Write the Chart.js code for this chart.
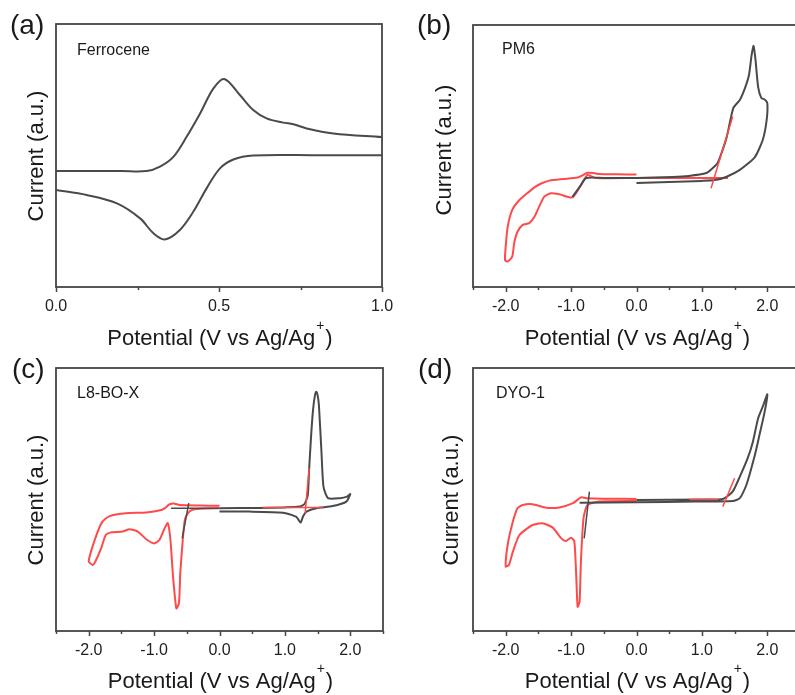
<!DOCTYPE html>
<html>
<head>
<meta charset="utf-8">
<script src="https://cdn.jsdelivr.net/npm/chart.js@4.4.1/dist/chart.umd.min.js"></script>
<style>
  html, body { margin: 0; padding: 0; background: #fff; overflow: hidden; width: 795px; height: 695px; }
  body { position: relative; }
  canvas { position: absolute; }
</style>
</head>
<body>
<canvas id="pa" style="left:0;top:0" width="400" height="360"></canvas>
<canvas id="pb" style="left:400px;top:0" width="400" height="360"></canvas>
<canvas id="pc" style="left:0;top:345px" width="400" height="350"></canvas>
<canvas id="pd" style="left:400px;top:345px" width="400" height="350"></canvas>
<script>
// ---- data (potential in V vs Ag/Ag+, current in a.u.) ----
// (a) ferrocene
const aFwdV = [0, 0.2, 0.278, 0.319, 0.36, 0.401, 0.442, 0.483, 0.516, 0.564, 0.605, 0.646, 0.697, 0.728, 0.769, 0.851, 1.0];
const aFwdI = [44.1, 44.1, 44.1, 45.8, 49.5, 57.2, 66.0, 75.5, 79.1, 73.0, 67.3, 64.1, 62.5, 61.9, 60.3, 58.4, 57.0];
const aRevV = [1.0, 0.8, 0.605, 0.544, 0.503, 0.462, 0.421, 0.380, 0.334, 0.299, 0.258, 0.187, 0.094, 0];
const aRevI = [50.1, 50.1, 50.0, 48.5, 45.1, 37.5, 28.6, 21.7, 18.1, 20.4, 26.1, 31.8, 35.0, 36.9];

// (b) PM6
const bBlackV = [0, 0.5, 1.0, 1.2, 1.37, 1.58, 1.81, 1.93, 1.99, 2.0, 1.96, 1.91, 1.86, 1.82, 1.79, 1.76, 1.72, 1.66, 1.58, 1.48, 1.38, 1.30, 1.24, 1.15, 1.07, 0.8, 0.55, 0, -0.5, -0.77, -0.85, -0.98];
const bBlackI = [39.7, 40.1, 40.5, 40.8, 42.0, 44.7, 49.6, 56.1, 63.7, 70.2, 71.6, 72.1, 76.3, 86.6, 92.0, 88.5, 80.9, 76.0, 71.4, 68.3, 57.3, 51.1, 47.3, 45.0, 43.5, 42.4, 42.0, 41.6, 41.6, 41.6, 38.9, 34.4];
const bRedV = [0, -0.3, -0.57, -0.66, -0.75, -0.82, -0.9, -1.13, -1.33, -1.44, -1.55, -1.64, -1.79, -1.90, -1.97, -2.0, -2.01, -1.97, -1.90, -1.87, -1.82, -1.74, -1.64, -1.56, -1.49, -1.41, -1.31, -1.18, -0.98, -0.85, -0.75, -0.62, 0, 1.4];
const bRedI = [42.9, 43.0, 43.1, 43.5, 43.6, 42.7, 41.8, 41.2, 40.6, 39.7, 38.2, 36.4, 33.2, 29.4, 22.9, 15.4, 10.3, 9.7, 11.6, 16.8, 21.1, 23.7, 24.4, 26.8, 30.6, 34.5, 35.8, 35.4, 34.2, 38.9, 42.7, 41.6, 41.6, 41.6];
const bTanV = [1.14, 1.47];
const bTanI = [37.7, 65.0];

// (c) L8-BO-X
const cBlackV = [0, 0.6, 1.0, 1.22, 1.30, 1.35, 1.37, 1.40, 1.43, 1.46, 1.48, 1.50, 1.52, 1.56, 1.59, 1.66, 1.84, 1.95, 2.0, 1.94, 1.73, 1.48, 1.33, 1.28, 1.24, 1.20, 1.17, 0.97, 0.46, 0];
const cBlackI = [46.7, 46.8, 47.0, 47.3, 48.3, 51.7, 61.2, 73.9, 84.0, 89.7, 91.0, 89.7, 85.9, 67.6, 54.9, 50.5, 50.5, 51.1, 52.1, 49.2, 47.5, 46.7, 45.4, 43.7, 41.2, 42.6, 43.5, 45.0, 45.4, 45.4];
const cRedV = [0, -0.3, -0.61, -0.70, -0.77, -0.83, -0.89, -1.12, -1.43, -1.68, -1.79, -1.89, -2.0, -1.94, -1.90, -1.81, -1.74, -1.66, -1.48, -1.38, -1.25, -1.12, -1.0, -0.92, -0.84, -0.79, -0.75, -0.71, -0.66, -0.62, -0.60, -0.56, -0.53, -0.48, -0.40, -0.2, 0];
const cRedI = [47.6, 47.7, 47.9, 48.5, 48.1, 46.8, 46.0, 45.1, 44.8, 43.7, 41.6, 35.9, 26.6, 25.1, 26.3, 31.4, 36.5, 37.5, 37.8, 38.7, 37.8, 34.9, 33.3, 34.6, 39.0, 41.0, 34.6, 20.6, 8.6, 10.5, 21.9, 35.2, 42.2, 44.9, 46.2, 46.6, 46.7];
const cBaseBlackV = [-0.74, 0];
const cBaseBlackI = [46.7, 46.7];
const cTanBlackV = [-0.57, -0.47];
const cTanBlackI = [35.2, 48.6];
const cBaseRedV = [0.66, 1.58];
const cBaseRedI = [47.0, 47.0];
const cTanRedV = [1.31, 1.37];
const cTanRedI = [44.8, 61.9];

// (d) DYO-1
const dBlackV = [0, 1.0, 1.32, 1.47, 1.58, 1.70, 1.78, 1.86, 1.93, 2.0, 1.96, 1.88, 1.81, 1.68, 1.58, 1.47, 0.9, 0, -0.87];
const dBlackI = [49.8, 50.0, 50.2, 53.0, 58.7, 65.7, 72.0, 80.9, 85.3, 90.0, 83.4, 74.5, 66.9, 55.5, 50.5, 49.4, 49.2, 49.0, 48.8];
const dRedV = [0, -0.4, -0.77, -0.85, -0.97, -1.18, -1.38, -1.59, -1.74, -1.82, -1.89, -1.97, -2.0, -1.95, -1.89, -1.79, -1.59, -1.44, -1.28, -1.15, -1.08, -1.0, -0.95, -0.92, -0.90, -0.87, -0.85, -0.81, -0.75, -0.57, 0];
const dRedI = [50.2, 50.3, 50.5, 50.8, 48.6, 47.0, 46.9, 48.2, 47.9, 46.7, 41.6, 32.7, 24.5, 25.1, 30.2, 36.5, 40.3, 41.0, 39.3, 35.2, 34.2, 35.5, 34.0, 20.0, 9.2, 11.1, 26.3, 42.9, 47.9, 49.2, 49.4];
const dTanBlackV = [-0.80, -0.72];
const dTanBlackI = [35.2, 53.0];
const dBaseRedV = [0.81, 1.25];
const dBaseRedI = [50.0, 50.0];
const dTanRedV = [1.32, 1.50];
const dTanRedI = [47.3, 58.1];

// ---- styling ----
const FONT = '"Liberation Sans", Arial, sans-serif';
const GREY = '#4a4a4a';
const RED = '#ff4a4a';
const AXIS = '#454545';

Chart.defaults.font.family = FONT;

function pts(xs, ys) {
  return xs.map((x, i) => ({ x: x, y: ys[i] }));
}

function line(xs, ys, color, width, tension) {
  return {
    data: pts(xs, ys),
    showLine: true,
    borderColor: color,
    borderWidth: width,
    pointRadius: 0,
    tension: tension,
    fill: false
  };
}

// frame, tick marks and all texts
const decor = {
  id: 'decor',
  afterDraw(chart, args, o) {
    const ctx = chart.ctx;
    const ca = chart.chartArea;
    const xs = chart.scales.x;
    ctx.save();
    ctx.strokeStyle = AXIS;
    ctx.lineWidth = 1.8;
    ctx.strokeRect(ca.left, ca.top, ca.right - ca.left, ca.bottom - ca.top);
    // tick marks, long under labelled ticks
    ctx.lineWidth = 1.5;
    xs.ticks.forEach((t) => {
      const px = Math.round(xs.getPixelForValue(t.value)) + 0.5;
      const len = t.label !== '' ? 5 : 3;
      ctx.beginPath();
      ctx.moveTo(px, ca.bottom);
      ctx.lineTo(px, ca.bottom + len);
      ctx.stroke();
    });

    ctx.fillStyle = '#1a1a1a';
    ctx.textAlign = 'left';
    ctx.textBaseline = 'middle';
    ctx.font = '28px ' + FONT;
    ctx.fillText(o.tag, o.tagX, o.tagY);
    ctx.font = '16px ' + FONT;
    ctx.fillText(o.name, o.nameX, o.nameY);

    // y title
    ctx.save();
    ctx.translate(o.yTitleX, o.yTitleY);
    ctx.rotate(-Math.PI / 2);
    ctx.textAlign = 'center';
    ctx.font = '22px ' + FONT;
    ctx.fillText('Current (a.u.)', 0, 0);
    ctx.restore();

    // x title with superscript +
    const s1 = 'Potential (V vs Ag/Ag', s2 = '+', s3 = ')';
    ctx.font = '22px ' + FONT;
    const w1 = ctx.measureText(s1).width, w3 = ctx.measureText(s3).width;
    ctx.font = '14px ' + FONT;
    const w2 = ctx.measureText(s2).width;
    const x = (ca.left + ca.right) / 2 - (w1 + w2 + w3) / 2;
    ctx.textBaseline = 'alphabetic';
    ctx.font = '22px ' + FONT;
    ctx.fillText(s1, x, o.xTitleBase);
    ctx.font = '14px ' + FONT;
    ctx.fillText(s2, x + w1 + 1, o.xTitleBase - 15);
    ctx.font = '22px ' + FONT;
    ctx.fillText(s3, x + w1 + w2 + 2, o.xTitleBase);
    ctx.restore();
  }
};

function makePanel(id, datasets, xmin, xmax, step, majorEvery, padding, deco) {
  return new Chart(document.getElementById(id), {
    type: 'scatter',
    data: { datasets: datasets },
    plugins: [decor],
    options: {
      responsive: false,
      animation: false,
      layout: { padding: padding },
      plugins: {
        legend: { display: false },
        tooltip: { enabled: false },
        decor: deco
      },
      scales: {
        x: {
          type: 'linear',
          min: xmin,
          max: xmax,
          grid: { display: false },
          border: { display: false },
          ticks: {
            stepSize: step,
            autoSkip: false,
            maxRotation: 0,
            padding: 2,
            color: '#222',
            font: { size: 16, family: FONT },
            callback: (v) => {
              const k = v / majorEvery;
              return Math.abs(k - Math.round(k)) < 1e-6 ? Number(v).toFixed(1) : '';
            }
          },
          afterFit: (s) => {
            s.height = 40;
            s.paddingLeft = 0;
            s.paddingRight = 0;
          }
        },
        y: { display: false, min: 0, max: 100 }
      }
    }
  });
}

makePanel('pa', [
  line(aFwdV, aFwdI, GREY, 2, 0.35),
  line(aRevV, aRevI, GREY, 2, 0.35)
], 0, 1, 0.25, 0.5, { left: 56, top: 24, right: 18, bottom: 33 },
{ tag: '(a)', tagX: 10, tagY: 26, name: 'Ferrocene', nameX: 77, nameY: 51, yTitleX: 37, yTitleY: 156, xTitleBase: 345 });

makePanel('pb', [
  line(bTanV, bTanI, RED, 1.5, 0),
  line(bBlackV, bBlackI, GREY, 2, 0.2),
  line(bRedV, bRedI, RED, 2, 0.2)
], -2.5, 2.5, 0.5, 1, { left: 73, top: 25, right: 0, bottom: 33 },
{ tag: '(b)', tagX: 17, tagY: 26, name: 'PM6', nameX: 102, nameY: 50, yTitleX: 45, yTitleY: 150, xTitleBase: 345 });

makePanel('pc', [
  line(cTanRedV, cTanRedI, RED, 1.5, 0),
  line(cBaseRedV, cBaseRedI, RED, 1.5, 0),
  line(cTanBlackV, cTanBlackI, GREY, 1.5, 0),
  line(cBaseBlackV, cBaseBlackI, GREY, 1.5, 0),
  line(cBlackV, cBlackI, GREY, 2, 0.2),
  line(cRedV, cRedI, RED, 2, 0.2)
], -2.5, 2.5, 0.5, 1, { left: 56, top: 23, right: 17, bottom: 24 },
{ tag: '(c)', tagX: 12, tagY: 25, name: 'L8-BO-X', nameX: 77, nameY: 49, yTitleX: 37, yTitleY: 155, xTitleBase: 343 });

makePanel('pd', [
  line(dTanRedV, dTanRedI, RED, 1.5, 0),
  line(dBaseRedV, dBaseRedI, RED, 1.5, 0),
  line(dTanBlackV, dTanBlackI, GREY, 1.5, 0),
  line(dBlackV, dBlackI, GREY, 2, 0.2),
  line(dRedV, dRedI, RED, 2, 0.2)
], -2.5, 2.5, 0.5, 1, { left: 73, top: 23, right: 0, bottom: 24 },
{ tag: '(d)', tagX: 18, tagY: 25, name: 'DYO-1', nameX: 96, nameY: 49, yTitleX: 52, yTitleY: 155, xTitleBase: 343 });
</script>
</body>
</html>
